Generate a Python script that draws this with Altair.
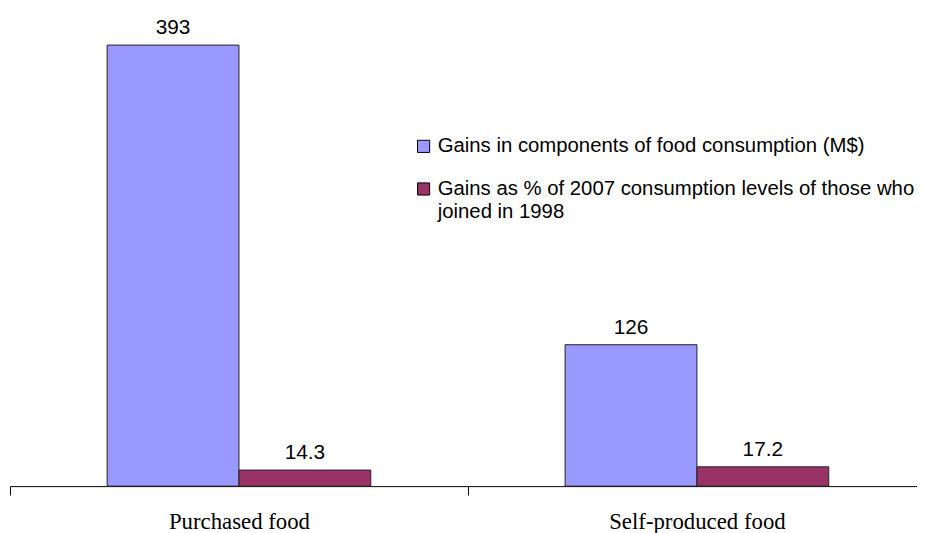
import altair as alt
import pandas as pd

categories = ["Purchased food", "Self-produced food"]
series = [
    "Gains in components of food consumption (M$)",
    "Gains as % of 2007 consumption levels of those who joined in 1998",
]
gains_mdollars = [393, 126]
gains_pct = [14.3, 17.2]
labels_mdollars = ["393", "126"]
labels_pct = ["14.3", "17.2"]

rows = []
for i, c in enumerate(categories):
    rows.append({"cat": c, "series": series[0], "value": gains_mdollars[i], "label": labels_mdollars[i]})
    rows.append({"cat": c, "series": series[1], "value": gains_pct[i], "label": labels_pct[i]})
df = pd.DataFrame(rows)

x_enc = alt.X("cat:N", sort=categories, title=None,
              scale=alt.Scale(paddingInner=0, paddingOuter=0),
              axis=alt.Axis(labelAngle=0, labelFont="Liberation Serif", labelFontSize=23,
                            labelColor="black", tickBand="extent", tickSize=9,
                            tickColor="black", domainColor="black", labelPadding=16,
                            ticks=True, grid=False))
xoff = alt.XOffset("series:N", sort=series, scale=alt.Scale(paddingOuter=0.737, paddingInner=0))
y_enc = alt.Y("value:Q", scale=alt.Scale(domain=[0, 424]), axis=None)

bars = alt.Chart(df).mark_bar(stroke="#222222", strokeWidth=1).encode(
    x=x_enc, xOffset=xoff, y=y_enc,
    color=alt.Color("series:N", sort=series,
                    scale=alt.Scale(domain=series, range=["#9999FF", "#993366"]),
                    legend=alt.Legend(
                        title=None, orient="none", legendX=407, legendY=127,
                        symbolType="square", symbolSize=150, symbolStrokeColor="black",
                        symbolStrokeWidth=1, symbolOpacity=1,
                        labelFont="Liberation Sans", labelFontSize=20.5, labelColor="black",
                        labelLimit=700, rowPadding=22, labelOffset=4,
                        labelExpr="datum.label == 'Gains as % of 2007 consumption levels of those who joined in 1998' ? ['Gains as % of 2007 consumption levels of those who', 'joined in 1998'] : datum.label",
                    )),
)

text = alt.Chart(df).mark_text(font="Liberation Sans", fontSize=21, color="black", dy=-11,
                               baseline="alphabetic").encode(
    x=x_enc, xOffset=xoff, y=y_enc, text="label:N",
)

chart = alt.layer(bars, text).properties(
    width=924, height=480,
    padding={"left": 2, "top": 0, "right": -9, "bottom": 50},
    autosize=alt.AutoSizeParams(type="none"),
    background="white",
).configure(
    view=alt.ViewConfig(strokeWidth=0),
    style={"guide-label": {"lineHeight": 23}},
)

chart.save("out.html", embed_options={"renderer": "svg", "actions": False})
